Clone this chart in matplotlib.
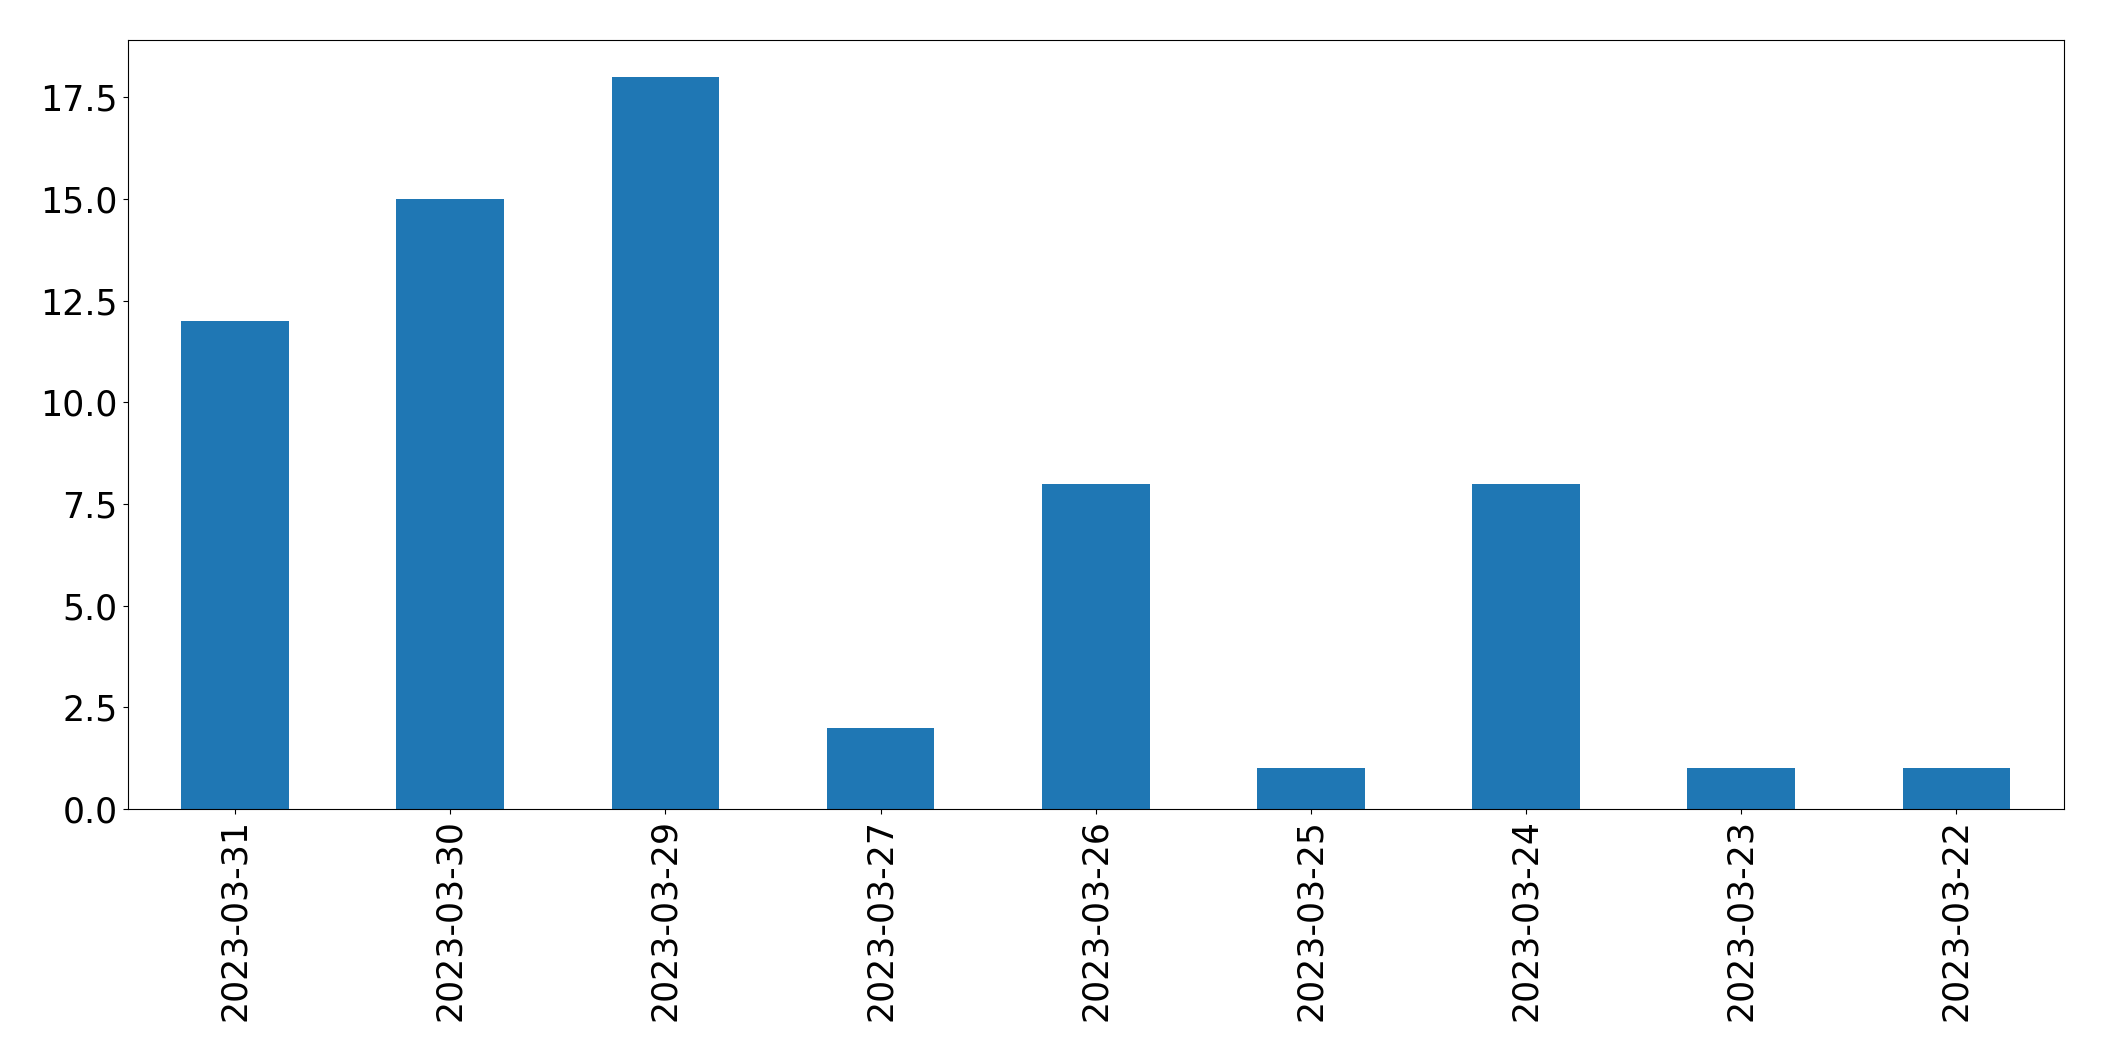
import pandas as pd
import matplotlib
matplotlib.use("Agg")
import matplotlib.pyplot as plt

# Data
dates = ["2023-03-31", "2023-03-30", "2023-03-29", "2023-03-27", "2023-03-26",
         "2023-03-25", "2023-03-24", "2023-03-23", "2023-03-22"]
counts = [12, 15, 18, 2, 8, 1, 8, 1, 1]

s = pd.Series(counts, index=dates)

fig = plt.figure(figsize=(21.04, 10.61), dpi=100)
ax = fig.add_subplot(111)
s.plot(kind="bar", ax=ax, color="#1f77b4", fontsize=25)
ax.tick_params(axis="both", labelsize=25)
fig.subplots_adjust(left=0.0606, right=0.981, top=0.962, bottom=0.2375)

fig.savefig("out.png", dpi=100)
